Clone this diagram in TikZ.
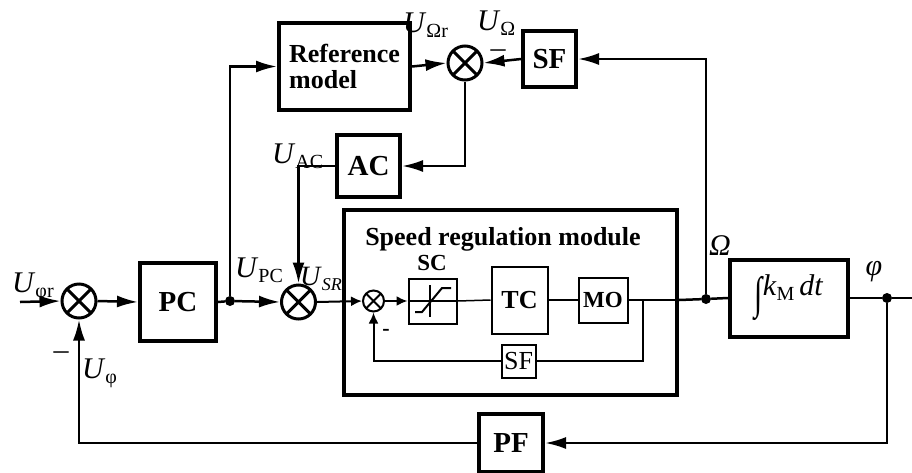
\documentclass[tikz,border=0pt]{standalone}
\usepackage{fontspec}
\usepackage{graphicx}
\setmainfont{Liberation Serif}
\usetikzlibrary{arrows.meta}
\newcommand{\fsz}[1]{\fontsize{#1}{#1}\selectfont}
\newcommand{\Ul}[1]{\textit{U}\raisebox{-5pt}{\fsz{20}#1}}
\begin{document}
\begin{tikzpicture}[x=1pt,y=-1pt,
  box/.style={draw, line width=4pt, inner sep=0pt, font=\fsz{29}\bfseries},
  ibox/.style={draw, line width=2pt, inner sep=0pt, font=\fsz{25}\bfseries},
  sum/.style={circle, draw, line width=3pt, minimum size=34pt, inner sep=0pt,
    path picture={\draw[line width=3pt]
      (path picture bounding box.north west) -- (path picture bounding box.south east)
      (path picture bounding box.north east) -- (path picture bounding box.south west);}},
  isum/.style={sum, line width=2pt, minimum size=21pt,
    path picture={\draw[line width=2pt]
      (path picture bounding box.north west) -- (path picture bounding box.south east)
      (path picture bounding box.north east) -- (path picture bounding box.south west);}},
  jdot/.style={circle, fill, minimum size=10pt, inner sep=0pt},
  conn/.style={line width=2.5pt},
  arr/.style={conn, -{Latex[length=21pt,width=12pt]}},
  iconn/.style={line width=1.5pt},
  iarr/.style={line width=2pt, -{Latex[length=11pt,width=10pt]}},
  lab/.style={inner sep=0pt, font=\fsz{30}},
]
\useasboundingbox (0,0) rectangle (912,472);

% nodes
\node[sum] (s1) at (79,301) {};
\node[box, minimum width=76pt, minimum height=78pt] (pc) at (178,302) {PC};
\node[jdot] (dpc) at (230,301) {};
\node[sum] (s2) at (298.5,302) {};
\node[box, minimum width=131pt, minimum height=87pt, align=left, font=\fsz{26}\bfseries,
  text depth=0pt] (refm) at (344.5,66.5) {\fontsize{26}{31}\selectfont Reference\\model};
\node[sum] (s3) at (465,63) {};
\node[box, minimum width=53pt, minimum height=56pt] (sft) at (549.5,59) {SF};
\node[box, minimum width=63pt, minimum height=62pt] (ac) at (368.5,166) {AC};
\node[draw, line width=4pt, minimum width=333pt, minimum height=185pt, inner sep=0pt] (mod) at (510.5,302.5) {};
\node[inner sep=0pt, anchor=base, font=\fsz{26}\bfseries] (modt) at (503,245) {Speed regulation module};
\node[isum] (s4) at (373.5,301) {};
\node[ibox, minimum width=48pt, minimum height=45pt] (sc) at (432.5,301) {};
\node[inner sep=0pt, font=\fsz{23}\bfseries] (sct) at (432,263) {SC};
\node[ibox, minimum width=56pt, minimum height=67pt, font=\fsz{26}\bfseries] (tc) at (519.5,300) {TC};
\node[ibox, minimum width=49pt, minimum height=45pt, font=\fsz{23}\bfseries] (mo) at (603,300) {MO};
\node[ibox, minimum width=34pt, minimum height=33pt, font=\fsz{26}] (sfi) at (518.5,361) {SF};
\node[jdot] (dom) at (706,299) {};
\node[box, minimum width=118pt, minimum height=77pt, font=\fsz{30}] (integ) at (789,298)
  {\raisebox{-13pt}{\scalebox{1}[1.5]{∫}}\textit{k}\raisebox{-5pt}{\fsz{20}M}\,\textit{dt}};
\node[jdot] (dphi) at (887,298) {};
\node[box, minimum width=64pt, minimum height=58pt] (pf) at (511,443) {PF};
\coordinate (in) at (20,302);
\coordinate (out) at (912,298);
\coordinate (br) at (643,300);

% saturation symbol
\draw[line width=1.5pt] (sc.west) -- (sc.east);
\draw[line width=2pt] (430,285) -- (430,317);
\draw[line width=2pt] (415,312) -- (422,312) -- (442,288) -- (451,288);

% connectors
\draw[arr] (in) -- (s1.west);
\draw[arr] (s1.east) -- (pc.west);
\draw[conn] (pc.east) -- (dpc);
\draw[arr] (dpc) -- (s2.west);
\draw[arr] (dpc) |- (refm.west);
\draw[arr] (refm.east) -- (s3.west);
\draw[arr] (sft.west) -- (s3.east);
\draw[arr] (dom) |- (sft.east);
\draw[arr] (s3.south) |- (ac.east);
\draw[arr] (ac.west) -| (s2.north);
\draw[iarr] (s2.east) -- (s4.west);
\draw[iarr] (s4.east) -- (sc.west);
\draw[iconn] (sc.east) -- (tc.west);
\draw[iconn] (tc.east) -- (mo.west);
\draw[iconn] (mo.east) -- (mod.east |- mo.east);
\draw[conn] (mod.east |- mo.east) -- (dom) -- (integ.west);
\draw[iconn] (br) |- (sfi.east);
\draw[iarr] (sfi.west) -| (s4.south);
\draw[conn] (integ.east) -- (dphi) -- (out);
\draw[arr] (dphi) |- (pf.east);
\draw[arr] (pf.west) -| (s1.south);

% labels
\node[lab, anchor=base west] (lphir) at (12,292) {\Ul{φr}};
\node[lab, anchor=base west] (lphi) at (82,378) {\Ul{φ}};
\node[lab, anchor=base] (m1) at (61,359) {–};
\node[lab, anchor=base west] (lpc) at (235,277) {\Ul{PC}};
\node[lab, anchor=base west, font=\fsz{28}] (lsr) at (300,285) {\textit{U}\raisebox{-5pt}{\fsz{18}\textit{SR}}};
\node[lab, anchor=base west] (lac) at (272,163) {\Ul{AC}};
\node[lab, anchor=base west] (lomr) at (403,32) {\Ul{Ωr}};
\node[lab, anchor=base west] (lom) at (477,30) {\Ul{Ω}};
\node[lab, anchor=base] (m2) at (498,57) {–};
\node[inner sep=0pt, font=\fsz{22}\bfseries] (m3) at (386,332) {-};
\node[lab, anchor=base west] (lOm) at (709,255) {\textit{Ω}};
\node[lab] (lvphi) at (874,272) {\textit{φ}};
\end{tikzpicture}
\end{document}
